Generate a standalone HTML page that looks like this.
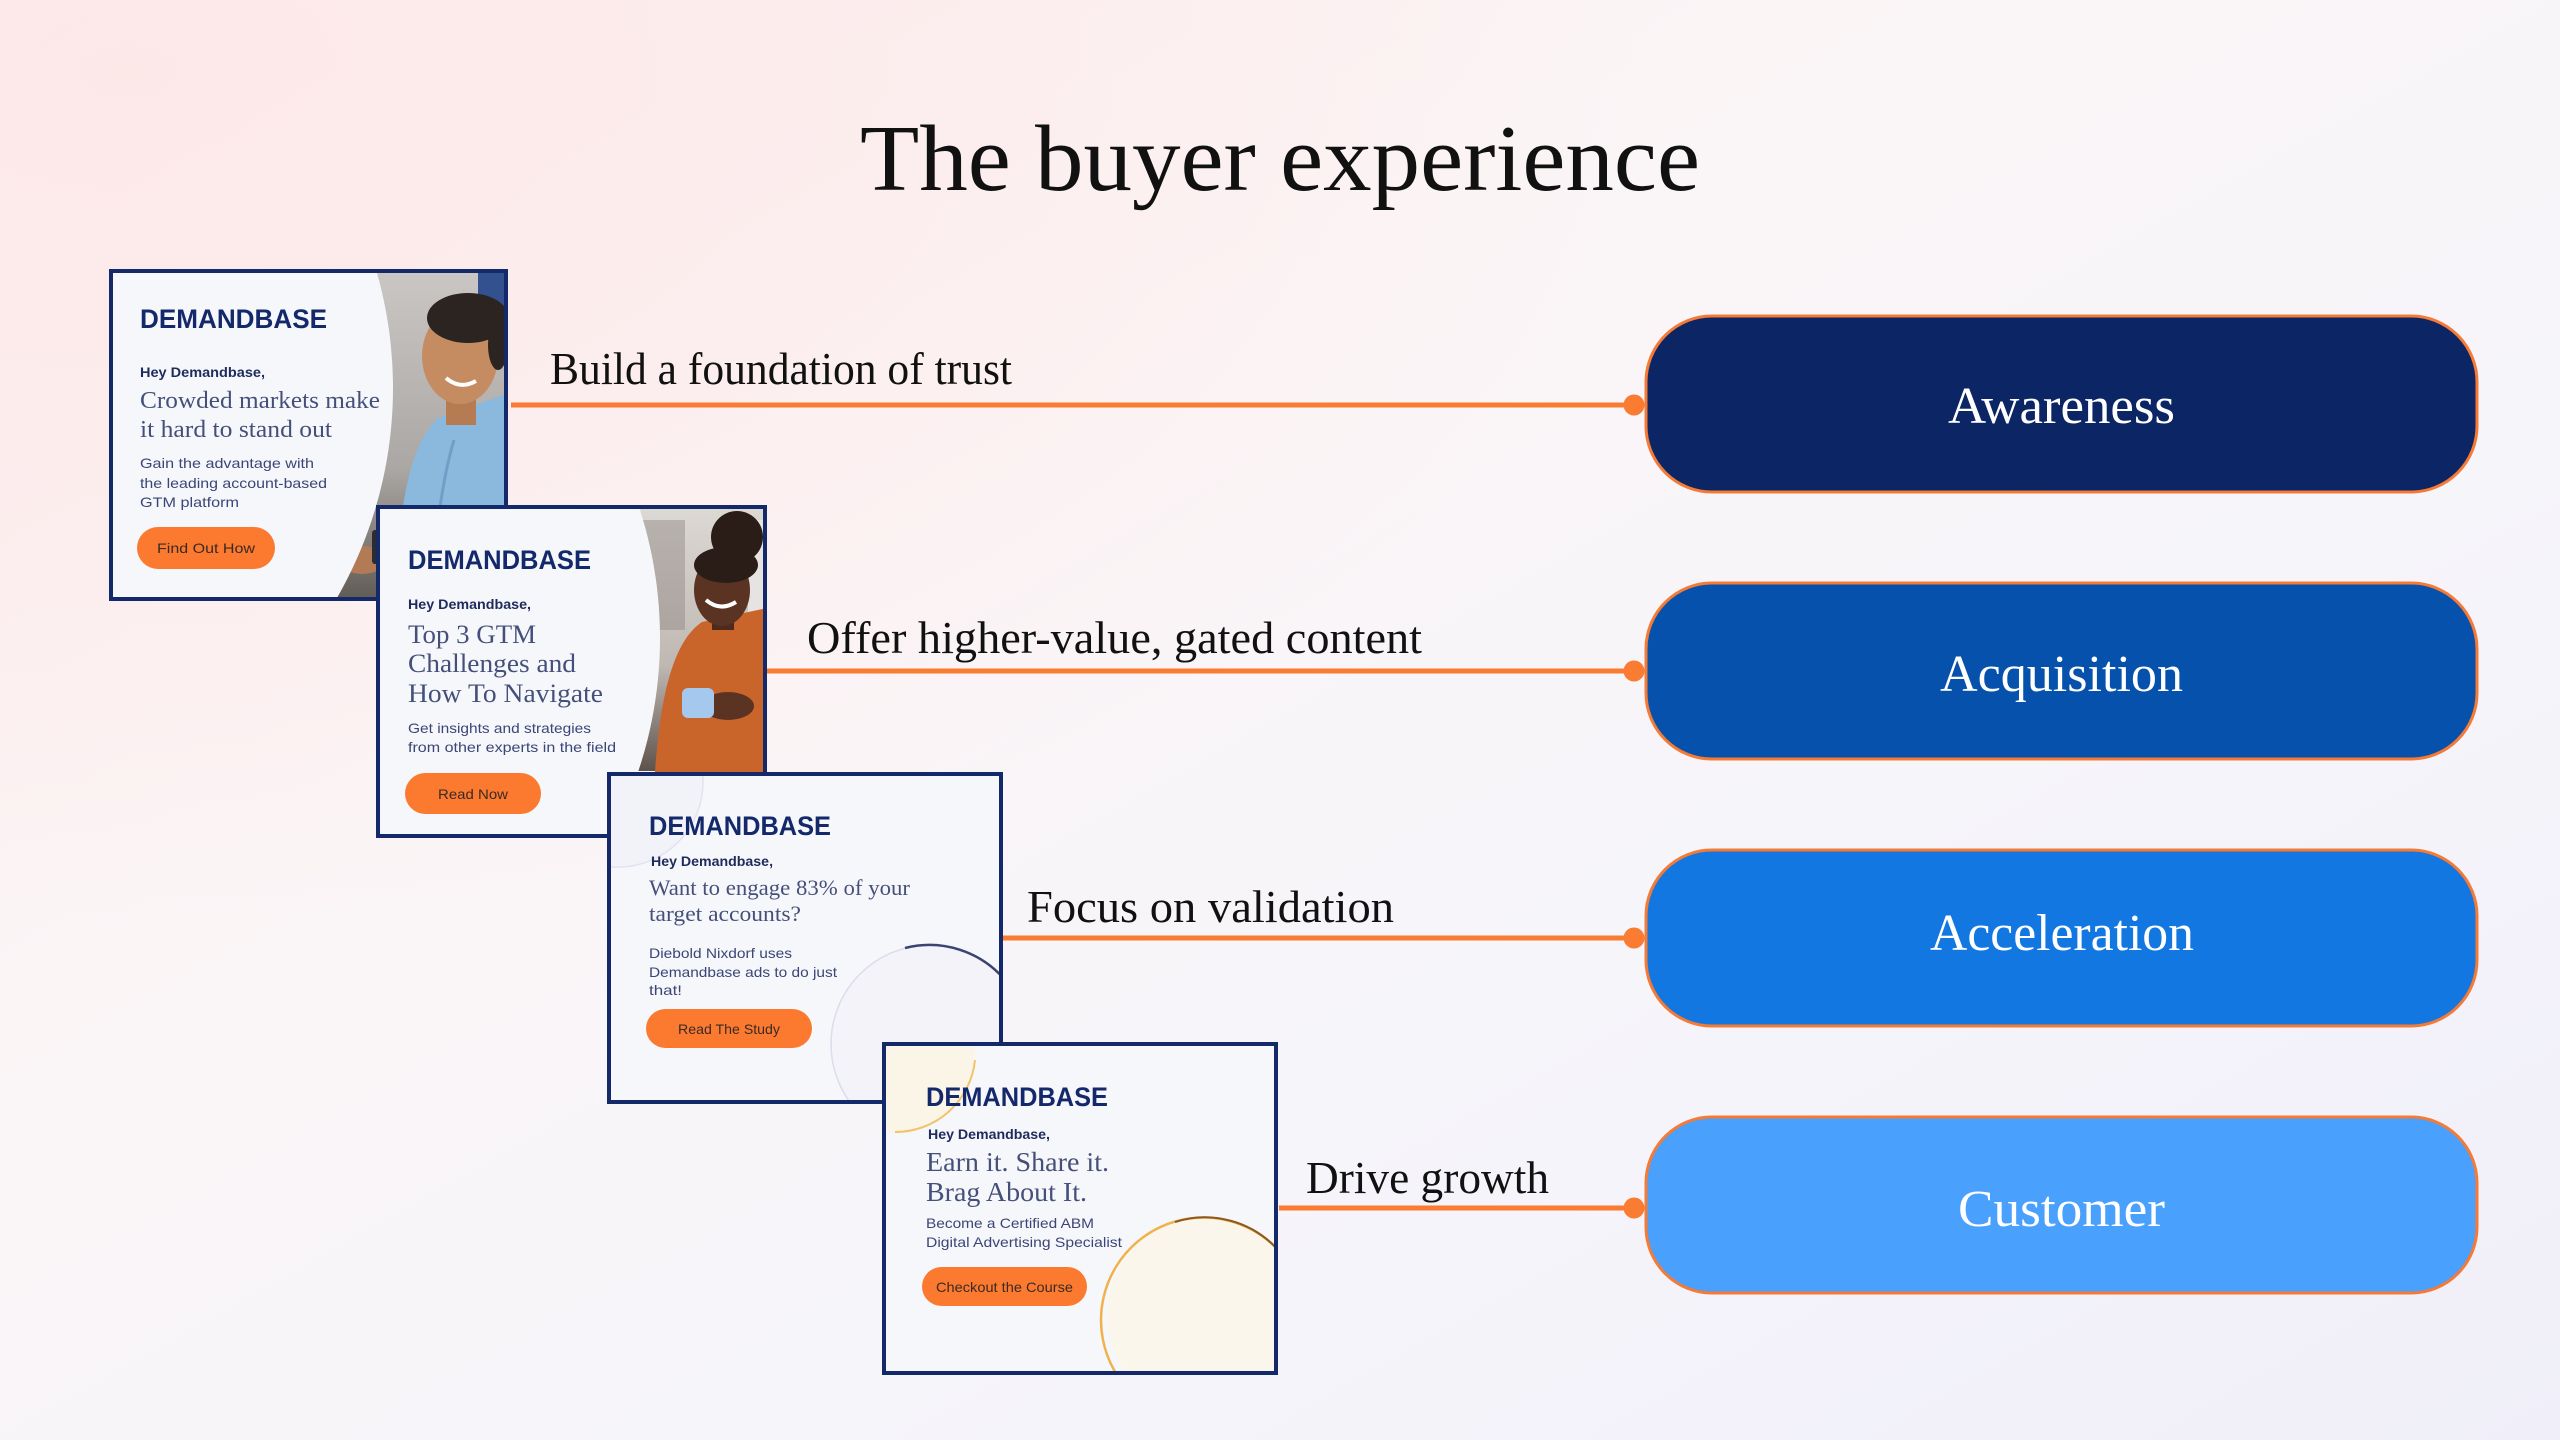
<!DOCTYPE html>
<html><head><meta charset="utf-8"><title>The buyer experience</title>
<style>
html,body{margin:0;padding:0;width:2560px;height:1440px;overflow:hidden;}
body{background:#f6f4f8;}
svg{display:block;}
</style></head>
<body>
<svg width="2560" height="1440" viewBox="0 0 2560 1440" xmlns="http://www.w3.org/2000/svg">
<defs>
  <linearGradient id="bg" x1="0" y1="0" x2="1" y2="1">
    <stop offset="0" stop-color="#fdecec"/>
    <stop offset="0.35" stop-color="#fbf5f6"/>
    <stop offset="0.65" stop-color="#f6f5fa"/>
    <stop offset="1" stop-color="#f0eff9"/>
  </linearGradient>
  <radialGradient id="pink" cx="0.05" cy="0.05" r="0.6">
    <stop offset="0" stop-color="#fde8e8" stop-opacity="0.9"/>
    <stop offset="1" stop-color="#fde8e8" stop-opacity="0"/>
  </radialGradient>
  <linearGradient id="grey1" x1="0" y1="0" x2="0" y2="1">
    <stop offset="0" stop-color="#c9c6c4"/>
    <stop offset="0.6" stop-color="#aba7a4"/>
    <stop offset="1" stop-color="#625c57"/>
  </linearGradient>
  <linearGradient id="grey2" x1="0" y1="0" x2="0" y2="1">
    <stop offset="0" stop-color="#dcd8d4"/>
    <stop offset="0.6" stop-color="#bfb8b2"/>
    <stop offset="1" stop-color="#5e534b"/>
  </linearGradient>
  <clipPath id="c1"><rect x="113" y="273" width="391" height="324"/></clipPath>
  <clipPath id="c2"><rect x="380" y="509" width="383" height="325"/></clipPath>
  <clipPath id="c3"><rect x="611" y="776" width="388" height="324"/></clipPath>
  <clipPath id="c4"><rect x="886" y="1046" width="388" height="325"/></clipPath>
</defs>

<rect width="2560" height="1440" fill="url(#bg)"/>
<rect width="2560" height="1440" fill="url(#pink)"/>

<!-- Title -->
<text x="860" y="190" font-family="'Liberation Serif', serif" font-size="94" fill="#111111" textLength="840" lengthAdjust="spacingAndGlyphs">The buyer experience</text>

<!-- Connector lines -->
<g stroke="#fa7b32" stroke-width="5">
  <line x1="511" y1="405" x2="1633" y2="405"/>
  <line x1="767" y1="671" x2="1633" y2="671"/>
  <line x1="1003" y1="938" x2="1633" y2="938"/>
  <line x1="1279" y1="1208" x2="1633" y2="1208"/>
</g>
<g fill="#fa7b32">
  <circle cx="1634" cy="405" r="10.5"/>
  <circle cx="1634" cy="671" r="10.5"/>
  <circle cx="1634" cy="938" r="10.5"/>
  <circle cx="1634" cy="1208" r="10.5"/>
</g>

<!-- Connector labels -->
<g font-family="'Liberation Serif', serif" font-size="46" fill="#111111">
  <text x="550" y="384" textLength="462" lengthAdjust="spacingAndGlyphs">Build a foundation of trust</text>
  <text x="807" y="653" textLength="615" lengthAdjust="spacingAndGlyphs">Offer higher-value, gated content</text>
  <text x="1027" y="922" textLength="367" lengthAdjust="spacingAndGlyphs">Focus on validation</text>
  <text x="1306" y="1193" textLength="243" lengthAdjust="spacingAndGlyphs">Drive growth</text>
</g>

<!-- Pills -->
<g stroke="#f57a35" stroke-width="3">
  <rect x="1646" y="316" width="831" height="176" rx="66" fill="#0b2565"/>
  <rect x="1646" y="583" width="831" height="176" rx="66" fill="#0651ab"/>
  <rect x="1646" y="850" width="831" height="176" rx="66" fill="#1377e1"/>
  <rect x="1646" y="1117" width="831" height="176" rx="66" fill="#4aa0fd"/>
</g>
<g font-family="'Liberation Serif', serif" font-size="52" fill="#ffffff">
  <text x="1948" y="423" textLength="227" lengthAdjust="spacingAndGlyphs">Awareness</text>
  <text x="1940" y="691" textLength="243" lengthAdjust="spacingAndGlyphs">Acquisition</text>
  <text x="1930" y="950" textLength="264" lengthAdjust="spacingAndGlyphs">Acceleration</text>
  <text x="1958" y="1226" textLength="207" lengthAdjust="spacingAndGlyphs">Customer</text>
</g>

<!-- ===== Card 1 ===== -->
<rect x="111" y="271" width="395" height="328" fill="#f6f7fb"/>
<g clip-path="url(#c1)">
  <rect x="280" y="273" width="226" height="326" fill="url(#grey1)"/>
  <rect x="478" y="273" width="28" height="70" fill="#33508f"/>
  <rect x="300" y="300" width="14" height="150" fill="#8d8884" opacity="0.6"/>
  <path d="M398 600 C396 520 408 445 438 418 L506 394 L506 600 Z" fill="#8ab9dd"/>
  <path d="M432 600 C434 540 442 480 454 440" stroke="#6f9fc6" stroke-width="3" fill="none"/>
  <rect x="446" y="385" width="30" height="40" fill="#b57c54"/>
  <ellipse cx="460" cy="356" rx="38" ry="48" fill="#c68c61"/>
  <ellipse cx="468" cy="318" rx="41" ry="25" fill="#2b2420"/>
  <ellipse cx="498" cy="345" rx="10" ry="25" fill="#2b2420"/>
  <path d="M446 378 Q460 390 476 381" stroke="#fff" stroke-width="4" fill="none"/>
  <ellipse cx="362" cy="560" rx="24" ry="14" fill="#b27a55"/>
  <rect x="372" y="530" width="14" height="34" rx="3" fill="#2a2b33"/>
  <circle cx="-28" cy="388" r="421" fill="#f6f7fb"/>
</g>
<rect x="111" y="271" width="395" height="328" fill="none" stroke="#13296a" stroke-width="4"/>
<g font-family="'Liberation Sans', sans-serif">
  <text x="140" y="328" font-size="27" font-weight="bold" fill="#14296b" textLength="187" lengthAdjust="spacingAndGlyphs">DEMANDBASE</text>
  <text x="140" y="377" font-size="14" font-weight="bold" fill="#1e2b5c" textLength="125" lengthAdjust="spacingAndGlyphs">Hey Demandbase,</text>
  <g font-size="14" fill="#3b4676">
    <text x="140" y="468" textLength="174" lengthAdjust="spacingAndGlyphs">Gain the advantage with</text>
    <text x="140" y="488" textLength="187" lengthAdjust="spacingAndGlyphs">the leading account-based</text>
    <text x="140" y="507" textLength="99" lengthAdjust="spacingAndGlyphs">GTM platform</text>
  </g>
  <rect x="137" y="527" width="138" height="42" rx="21" fill="#fb7a30"/>
  <text x="157" y="553" font-size="14" fill="#3a2a22" textLength="98" lengthAdjust="spacingAndGlyphs">Find Out How</text>
</g>
<g font-family="'Liberation Serif', serif" font-size="24" fill="#45507a">
  <text x="140" y="408" textLength="240" lengthAdjust="spacingAndGlyphs">Crowded markets make</text>
  <text x="140" y="437" textLength="192" lengthAdjust="spacingAndGlyphs">it hard to stand out</text>
</g>

<!-- ===== Card 2 ===== -->
<rect x="378" y="507" width="387" height="329" fill="#f6f7fb"/>
<g clip-path="url(#c2)">
  <rect x="600" y="509" width="165" height="262" fill="url(#grey2)"/>
  <rect x="640" y="520" width="45" height="110" fill="#8e8680" opacity="0.45"/>
  <rect x="748" y="520" width="17" height="140" fill="#e6e3e0"/>
  <path d="M655 772 C660 700 672 642 702 622 L767 608 L767 772 Z" fill="#c9652b"/>
  <rect x="712" y="600" width="22" height="30" fill="#4d2a1c"/>
  <ellipse cx="722" cy="590" rx="28" ry="36" fill="#5b3322"/>
  <circle cx="737" cy="537" r="26" fill="#2a1d17"/>
  <ellipse cx="726" cy="565" rx="32" ry="18" fill="#2a1d17"/>
  <path d="M706 600 Q720 612 736 602" stroke="#fff" stroke-width="4" fill="none"/>
  <ellipse cx="728" cy="706" rx="26" ry="14" fill="#5b3322"/>
  <rect x="682" y="688" width="32" height="30" rx="6" fill="#a5c8ee"/>
  <circle cx="240" cy="638" r="420" fill="#f6f7fb"/>
</g>
<rect x="378" y="507" width="387" height="329" fill="none" stroke="#13296a" stroke-width="4"/>
<g font-family="'Liberation Sans', sans-serif">
  <text x="408" y="569" font-size="27" font-weight="bold" fill="#14296b" textLength="183" lengthAdjust="spacingAndGlyphs">DEMANDBASE</text>
  <text x="408" y="609" font-size="14" font-weight="bold" fill="#1e2b5c" textLength="123" lengthAdjust="spacingAndGlyphs">Hey Demandbase,</text>
  <g font-size="14" fill="#3b4676">
    <text x="408" y="733" textLength="183" lengthAdjust="spacingAndGlyphs">Get insights and strategies</text>
    <text x="408" y="752" textLength="208" lengthAdjust="spacingAndGlyphs">from other experts in the field</text>
  </g>
  <rect x="405" y="773" width="136" height="41" rx="20.5" fill="#fb7a30"/>
  <text x="438" y="799" font-size="14" fill="#3a2a22" textLength="70" lengthAdjust="spacingAndGlyphs">Read Now</text>
</g>
<g font-family="'Liberation Serif', serif" font-size="26" fill="#45507a">
  <text x="408" y="643" textLength="128" lengthAdjust="spacingAndGlyphs">Top 3 GTM</text>
  <text x="408" y="672" textLength="168" lengthAdjust="spacingAndGlyphs">Challenges and</text>
  <text x="408" y="702" textLength="195" lengthAdjust="spacingAndGlyphs">How To Navigate</text>
</g>

<!-- ===== Card 3 ===== -->
<rect x="609" y="774" width="392" height="328" fill="#f6f7fb"/>
<g clip-path="url(#c3)">
  <circle cx="618" cy="782" r="85" fill="#f2f2f9" stroke="#e3e3f0" stroke-width="1.5"/>
  <circle cx="930" cy="1044" r="99" fill="#f3f3f9" stroke="#dcdcea" stroke-width="1.5"/>
  <path d="M905 948 A99 99 0 0 1 1005 980" stroke="#3a4470" stroke-width="2.5" fill="none"/>
</g>
<rect x="609" y="774" width="392" height="328" fill="none" stroke="#13296a" stroke-width="4"/>
<g font-family="'Liberation Sans', sans-serif">
  <text x="649" y="835" font-size="27" font-weight="bold" fill="#14296b" textLength="182" lengthAdjust="spacingAndGlyphs">DEMANDBASE</text>
  <text x="651" y="866" font-size="14" font-weight="bold" fill="#1e2b5c" textLength="122" lengthAdjust="spacingAndGlyphs">Hey Demandbase,</text>
  <g font-size="14" fill="#3b4676">
    <text x="649" y="958" textLength="143" lengthAdjust="spacingAndGlyphs">Diebold Nixdorf uses</text>
    <text x="649" y="977" textLength="188" lengthAdjust="spacingAndGlyphs">Demandbase ads to do just</text>
    <text x="649" y="995" textLength="33" lengthAdjust="spacingAndGlyphs">that!</text>
  </g>
  <rect x="646" y="1009" width="166" height="39" rx="19.5" fill="#fb7a30"/>
  <text x="678" y="1034" font-size="14" fill="#3a2a22" textLength="102" lengthAdjust="spacingAndGlyphs">Read The Study</text>
</g>
<g font-family="'Liberation Serif', serif" font-size="22" fill="#45507a">
  <text x="649" y="895" textLength="261" lengthAdjust="spacingAndGlyphs">Want to engage 83% of your</text>
  <text x="649" y="921" textLength="152" lengthAdjust="spacingAndGlyphs">target accounts?</text>
</g>

<!-- ===== Card 4 ===== -->
<rect x="884" y="1044" width="392" height="329" fill="#f6f7fb"/>
<g clip-path="url(#c4)">
  <circle cx="895" cy="1052" r="80" fill="#fbf5e8"/>
  <path d="M975 1060 A80 80 0 0 1 895 1132" stroke="#f2c46a" stroke-width="2" fill="none"/>
  <circle cx="1205" cy="1315" r="98" fill="#fbf6ec"/>
  <path d="M1117 1375 A98 98 0 0 1 1290 1265" stroke="#f0b24a" stroke-width="2.5" fill="none"/>
  <path d="M1175 1222 A98 98 0 0 1 1278 1250" stroke="#8a5a22" stroke-width="2" fill="none"/>
</g>
<rect x="884" y="1044" width="392" height="329" fill="none" stroke="#13296a" stroke-width="4"/>
<g font-family="'Liberation Sans', sans-serif">
  <text x="926" y="1106" font-size="27" font-weight="bold" fill="#14296b" textLength="182" lengthAdjust="spacingAndGlyphs">DEMANDBASE</text>
  <text x="928" y="1139" font-size="14" font-weight="bold" fill="#1e2b5c" textLength="122" lengthAdjust="spacingAndGlyphs">Hey Demandbase,</text>
  <g font-size="14" fill="#3b4676">
    <text x="926" y="1228" textLength="168" lengthAdjust="spacingAndGlyphs">Become a Certified ABM</text>
    <text x="926" y="1247" textLength="196" lengthAdjust="spacingAndGlyphs">Digital Advertising Specialist</text>
  </g>
  <rect x="922" y="1267" width="165" height="39" rx="19.5" fill="#fb7a30"/>
  <text x="936" y="1292" font-size="14" fill="#3a2a22" textLength="137" lengthAdjust="spacingAndGlyphs">Checkout the Course</text>
</g>
<g font-family="'Liberation Serif', serif" font-size="27" fill="#45507a">
  <text x="926" y="1171" textLength="183" lengthAdjust="spacingAndGlyphs">Earn it. Share it.</text>
  <text x="926" y="1201" textLength="161" lengthAdjust="spacingAndGlyphs">Brag About It.</text>
</g>
</svg>
</body></html>
